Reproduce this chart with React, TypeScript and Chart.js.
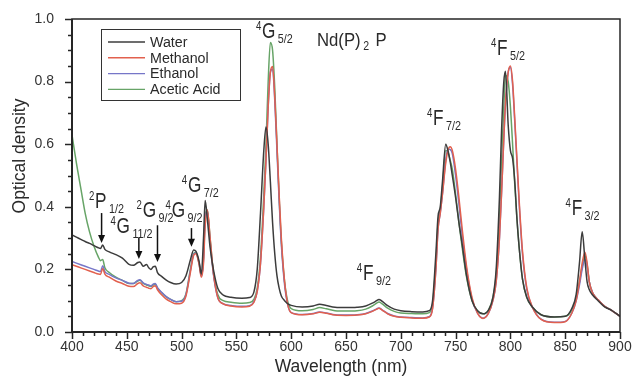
import React, { useEffect, useRef } from 'react';
import { Chart, registerables } from 'chart.js';

Chart.register(...registerables);

// Wavelength grid (nm)
const wavelength = [
  400, 404, 408, 412, 416, 420, 424, 426, 428, 430,
  434, 440, 446, 452, 456, 460, 462, 465, 468, 470,
  472, 474, 476, 478, 482, 486, 490, 495, 500, 504,
  508, 511, 513, 516, 518, 520, 521.5, 523.5, 526, 529,
  533, 538, 545, 555, 562, 566, 569, 572, 575, 577,
  579, 581, 583, 585, 587, 589, 591, 594, 597, 600,
  610, 620, 626, 632, 640, 650, 660, 668, 674, 678,
  680, 683, 688, 694, 700, 710, 720, 726, 729, 732,
  734, 736, 738, 741, 743, 745, 747, 750, 753, 756,
  760, 765, 770, 775, 780, 784, 787, 790, 792, 794,
  795.5, 798, 800, 802, 804, 806, 808, 811, 815, 820,
  828, 840, 850, 856, 860, 863, 865.5, 868, 870, 872,
  875, 880, 886, 892, 900,
];

const water = [
  0.310, 0.303, 0.296, 0.289, 0.283, 0.276, 0.269, 0.267, 0.278, 0.264,
  0.256, 0.247, 0.236, 0.216, 0.213, 0.222, 0.224, 0.210, 0.216, 0.205,
  0.200, 0.208, 0.210, 0.190, 0.177, 0.166, 0.158, 0.153, 0.158, 0.180,
  0.230, 0.262, 0.258, 0.225, 0.185, 0.300, 0.420, 0.360, 0.270, 0.200,
  0.140, 0.118, 0.111, 0.108, 0.110, 0.128, 0.200, 0.380, 0.580, 0.655,
  0.600, 0.480, 0.350, 0.250, 0.180, 0.140, 0.115, 0.100, 0.090, 0.085,
  0.080, 0.083, 0.089, 0.085, 0.079, 0.078, 0.079, 0.083, 0.092, 0.100,
  0.104, 0.098, 0.084, 0.073, 0.068, 0.065, 0.064, 0.068, 0.100, 0.250,
  0.370, 0.400, 0.480, 0.600, 0.580, 0.545, 0.500, 0.430, 0.350, 0.280,
  0.180, 0.100, 0.068, 0.058, 0.070, 0.110, 0.200, 0.430, 0.650, 0.800,
  0.833, 0.660, 0.580, 0.555, 0.480, 0.360, 0.270, 0.170, 0.110, 0.080,
  0.055, 0.048, 0.050, 0.075, 0.120, 0.220, 0.320, 0.230, 0.160, 0.135,
  0.118, 0.100, 0.080, 0.070, 0.050,
];

const methanol = [
  0.215, 0.210, 0.205, 0.200, 0.195, 0.190, 0.185, 0.184, 0.203, 0.185,
  0.175, 0.163, 0.155, 0.146, 0.145, 0.155, 0.157, 0.147, 0.143, 0.140,
  0.138, 0.145, 0.148, 0.135, 0.118, 0.105, 0.097, 0.090, 0.092, 0.115,
  0.190, 0.245, 0.250, 0.215, 0.175, 0.220, 0.340, 0.390, 0.300, 0.190,
  0.110, 0.090, 0.083, 0.080, 0.082, 0.095, 0.130, 0.220, 0.400, 0.550,
  0.720, 0.830, 0.848, 0.750, 0.600, 0.440, 0.300, 0.160, 0.085, 0.062,
  0.055, 0.058, 0.063, 0.060, 0.054, 0.053, 0.054, 0.058, 0.066, 0.073,
  0.076, 0.070, 0.058, 0.050, 0.047, 0.045, 0.044, 0.048, 0.075, 0.200,
  0.330, 0.380, 0.440, 0.540, 0.580, 0.592, 0.580, 0.520, 0.430, 0.330,
  0.210, 0.110, 0.060, 0.043, 0.060, 0.100, 0.160, 0.300, 0.450, 0.620,
  0.730, 0.830, 0.850, 0.800, 0.680, 0.550, 0.420, 0.260, 0.140, 0.080,
  0.040, 0.030, 0.033, 0.060, 0.100, 0.160, 0.220, 0.255, 0.220, 0.160,
  0.125, 0.103, 0.082, 0.070, 0.050,
];

const ethanol = [
  0.225, 0.220, 0.215, 0.210, 0.205, 0.200, 0.195, 0.193, 0.212, 0.193,
  0.184, 0.173, 0.165, 0.156, 0.155, 0.165, 0.167, 0.157, 0.152, 0.150,
  0.147, 0.153, 0.155, 0.142, 0.126, 0.113, 0.104, 0.097, 0.098, 0.120,
  0.195, 0.248, 0.252, 0.218, 0.178, 0.230, 0.360, 0.385, 0.290, 0.185,
  0.110, 0.090, 0.085, 0.082, 0.084, 0.097, 0.130, 0.220, 0.400, 0.550,
  0.720, 0.830, 0.840, 0.740, 0.580, 0.420, 0.280, 0.150, 0.085, 0.062,
  0.056, 0.059, 0.064, 0.061, 0.055, 0.054, 0.055, 0.059, 0.067, 0.074,
  0.077, 0.071, 0.059, 0.051, 0.048, 0.046, 0.045, 0.049, 0.077, 0.200,
  0.330, 0.380, 0.440, 0.550, 0.585, 0.583, 0.570, 0.500, 0.410, 0.310,
  0.200, 0.105, 0.060, 0.044, 0.060, 0.100, 0.160, 0.300, 0.450, 0.620,
  0.730, 0.830, 0.845, 0.790, 0.670, 0.540, 0.410, 0.250, 0.135, 0.080,
  0.041, 0.031, 0.034, 0.060, 0.100, 0.150, 0.200, 0.232, 0.210, 0.160,
  0.125, 0.103, 0.082, 0.070, 0.050,
];

const aceticAcid = [
  0.630, 0.540, 0.460, 0.380, 0.320, 0.275, 0.240, 0.228, 0.232, 0.205,
  0.190, 0.175, 0.165, 0.155, 0.155, 0.163, 0.165, 0.155, 0.150, 0.148,
  0.145, 0.150, 0.153, 0.140, 0.125, 0.112, 0.104, 0.097, 0.100, 0.122,
  0.200, 0.250, 0.255, 0.220, 0.180, 0.240, 0.370, 0.390, 0.300, 0.190,
  0.120, 0.100, 0.095, 0.092, 0.094, 0.105, 0.140, 0.240, 0.440, 0.600,
  0.800, 0.925, 0.900, 0.780, 0.600, 0.430, 0.290, 0.160, 0.095, 0.075,
  0.068, 0.072, 0.078, 0.074, 0.068, 0.067, 0.068, 0.073, 0.083, 0.092,
  0.096, 0.090, 0.076, 0.066, 0.061, 0.059, 0.058, 0.062, 0.090, 0.220,
  0.350, 0.390, 0.460, 0.580, 0.575, 0.550, 0.520, 0.440, 0.350, 0.270,
  0.175, 0.100, 0.068, 0.058, 0.070, 0.110, 0.180, 0.360, 0.550, 0.720,
  0.820, 0.800, 0.720, 0.600, 0.470, 0.360, 0.270, 0.170, 0.110, 0.080,
  0.055, 0.048, 0.050, 0.070, 0.110, 0.160, 0.210, 0.245, 0.215, 0.160,
  0.125, 0.103, 0.082, 0.070, 0.050,
];

const seriesNames = ['Water', 'Methanol', 'Ethanol', 'Acetic Acid'];
const seriesValues = [water, methanol, ethanol, aceticAcid];
const seriesColors = ['#3c3c3c', '#e2604e', '#7676c8', '#67a467'];

const xMin = 400;
const xMax = 900;
const xMajor = 50;
const xMinor = 10;
const yMin = 0;
const yMax = 1;
const yMajor = 0.2;
const yMinor = 0.05;

const xTitle = 'Wavelength (nm)';
const yTitle = 'Optical density';
const sampleName = ['Nd(P)', '2', ' P'];
const sampleAt = [623.5, 0.915];

// [superscript, letter, subscript, wavelength at letter's left, OD at baseline]
const levelLabels: [string, string, string, number, number][] = [
  ['4', 'G', '5/2', 573.4, 0.94],
  ['4', 'F', '5/2', 787.8, 0.885],
  ['4', 'F', '7/2', 729.4, 0.661],
  ['4', 'F', '9/2', 665.5, 0.165],
  ['4', 'F', '3/2', 855.9, 0.373],
  ['4', 'G', '7/2', 505.8, 0.447],
  ['2', 'P', '1/2', 421.0, 0.396],
  ['4', 'G', '11/2', 440.7, 0.317],
  ['2', 'G', '9/2', 464.5, 0.366],
  ['4', 'G', '9/2', 491.0, 0.366],
];

// [wavelength, OD top, OD tip]
const arrows: [number, number, number][] = [
  [427, 0.38, 0.284],
  [461, 0.30, 0.233],
  [478, 0.341, 0.224],
  [509, 0.332, 0.272],
];

const FONT = '"Liberation Sans", Arial, Helvetica, sans-serif';

const decorPlugin = {
  id: 'decor',
  afterDraw(chart: any) {
    const { ctx, chartArea: a } = chart;
    const xs = chart.scales.x;
    const ys = chart.scales.y;
    ctx.save();

    // frame
    ctx.strokeStyle = '#262626';
    ctx.lineWidth = 1.5;
    ctx.strokeRect(a.left, a.top, a.right - a.left, a.bottom - a.top);
    ctx.lineWidth = 2;
    ctx.beginPath();
    ctx.moveTo(a.left, a.top);
    ctx.lineTo(a.left, a.bottom);
    ctx.lineTo(a.right, a.bottom);
    ctx.stroke();

    // ticks
    ctx.lineWidth = 1.5;
    const nx = Math.round((xMax - xMin) / xMinor);
    for (let i = 0; i <= nx; i++) {
      const v = xMin + i * xMinor;
      const px = Math.round(xs.getPixelForValue(v)) + 0.5;
      const len = v % xMajor === 0 ? 7 : 4;
      ctx.beginPath();
      ctx.moveTo(px, a.bottom);
      ctx.lineTo(px, a.bottom + len);
      ctx.stroke();
    }
    const ny = Math.round((yMax - yMin) / yMinor);
    const perMajor = Math.round(yMajor / yMinor);
    for (let i = 0; i <= ny; i++) {
      const v = yMin + i * yMinor;
      const py = Math.round(ys.getPixelForValue(v)) + 0.5;
      const len = i % perMajor === 0 ? 7 : 4;
      ctx.beginPath();
      ctx.moveTo(a.left, py);
      ctx.lineTo(a.left - len, py);
      ctx.stroke();
    }

    // axis titles
    ctx.fillStyle = '#2a2a2a';
    ctx.font = `17.5px ${FONT}`;
    ctx.textAlign = 'center';
    ctx.textBaseline = 'middle';
    ctx.fillText(xTitle, 341, 367);
    ctx.save();
    ctx.translate(20, 156);
    ctx.rotate(-Math.PI / 2);
    ctx.fillText(yTitle, 0, 0);
    ctx.restore();

    // legend
    ctx.lineWidth = 1;
    ctx.strokeStyle = '#333';
    ctx.strokeRect(101.5, 29.5, 139, 71);
    ctx.textAlign = 'left';
    ctx.textBaseline = 'middle';
    seriesNames.forEach((name, i) => {
      const yy = 42 + i * 15.8;
      ctx.strokeStyle = seriesColors[i];
      ctx.lineWidth = 1.4;
      ctx.beginPath();
      ctx.moveTo(108, yy);
      ctx.lineTo(145, yy);
      ctx.stroke();
      ctx.fillStyle = '#2a2a2a';
      ctx.save();
      ctx.translate(150, yy + 0.5);
      ctx.scale(0.92, 1);
      ctx.font = `15.5px ${FONT}`;
      ctx.fillText(name, 0, 0);
      ctx.restore();
    });

    // sample name
    ctx.textBaseline = 'alphabetic';
    ctx.fillStyle = '#2a2a2a';
    {
      const px = xs.getPixelForValue(sampleAt[0]);
      const py = ys.getPixelForValue(sampleAt[1]);
      ctx.save();
      ctx.translate(px, py);
      ctx.scale(0.88, 1);
      ctx.font = `19px ${FONT}`;
      ctx.fillText(sampleName[0], 0, 0);
      let w = ctx.measureText(sampleName[0]).width + 3;
      ctx.font = `12px ${FONT}`;
      ctx.fillText(sampleName[1], w, 4);
      w += ctx.measureText(sampleName[1]).width + 2;
      ctx.font = `19px ${FONT}`;
      ctx.fillText(sampleName[2], w, 0);
      ctx.restore();
    }

    // energy level labels
    levelLabels.forEach(([sup, main, sub, nm, od]) => {
      const px = xs.getPixelForValue(nm);
      const py = ys.getPixelForValue(od);
      ctx.save();
      ctx.translate(px, py);
      ctx.scale(0.8, 1);
      ctx.font = `21.5px ${FONT}`;
      ctx.textAlign = 'left';
      ctx.fillText(main, 0, 0);
      const w = ctx.measureText(main).width;
      ctx.font = `12px ${FONT}`;
      ctx.textAlign = 'right';
      ctx.fillText(sup, -1, -8);
      ctx.font = `13.5px ${FONT}`;
      ctx.textAlign = 'left';
      ctx.fillText(sub, w + 3, 5);
      ctx.restore();
    });

    // arrows
    ctx.strokeStyle = '#111';
    ctx.fillStyle = '#111';
    ctx.lineWidth = 1.5;
    arrows.forEach(([nm, top, tip]) => {
      const px = xs.getPixelForValue(nm);
      const pt = ys.getPixelForValue(top);
      const pb = ys.getPixelForValue(tip);
      ctx.beginPath();
      ctx.moveTo(px, pt);
      ctx.lineTo(px, pb - 6);
      ctx.stroke();
      ctx.beginPath();
      ctx.moveTo(px - 3.5, pb - 8);
      ctx.lineTo(px + 3.5, pb - 8);
      ctx.lineTo(px, pb);
      ctx.closePath();
      ctx.fill();
    });

    ctx.restore();
  },
};

export default function App() {
  const ref = useRef<HTMLCanvasElement | null>(null);

  useEffect(() => {
    if (!ref.current) return;
    const datasets = seriesNames.map((name, i) => ({
      label: name,
      data: wavelength.map((w, j) => ({ x: w, y: seriesValues[i][j] })),
      borderColor: seriesColors[i],
      backgroundColor: seriesColors[i],
      borderWidth: 1.5,
      pointRadius: 0,
      fill: false,
      cubicInterpolationMode: 'monotone' as const,
    }));

    const chart = new Chart(ref.current, {
      type: 'line',
      data: { datasets },
      options: {
        animation: false,
        responsive: false,
        devicePixelRatio: 1,
        layout: { padding: { top: 19, right: 14, bottom: 0, left: 0 } },
        plugins: {
          legend: { display: false },
          tooltip: { enabled: false },
          title: { display: false },
        },
        scales: {
          x: {
            type: 'linear',
            min: xMin,
            max: xMax,
            grid: { display: false, drawTicks: false },
            border: { display: false },
            ticks: {
              stepSize: xMajor,
              autoSkip: false,
              maxRotation: 0,
              padding: 7,
              color: '#333',
              font: { family: FONT, size: 14 },
              callback: (v: any) => String(v),
            },
            afterFit: (s: any) => {
              s.height = 47;
              s.paddingLeft = 0;
              s.paddingRight = 0;
            },
          },
          y: {
            type: 'linear',
            min: yMin,
            max: yMax,
            grid: { display: false, drawTicks: false },
            border: { display: false },
            ticks: {
              stepSize: yMajor,
              autoSkip: false,
              padding: 18,
              color: '#333',
              font: { family: FONT, size: 14 },
              callback: (v: any) => Number(v).toFixed(1),
            },
            afterFit: (s: any) => {
              s.width = 72;
              s.paddingTop = 0;
              s.paddingBottom = 0;
            },
          },
        },
      },
      plugins: [decorPlugin],
    });
    return () => chart.destroy();
  }, []);

  return (
    <div style={{ position: 'fixed', left: 0, top: 0, width: 634, height: 379, background: '#fff' }}>
      <canvas ref={ref} width={634} height={379} style={{ width: 634, height: 379 }} />
    </div>
  );
}
